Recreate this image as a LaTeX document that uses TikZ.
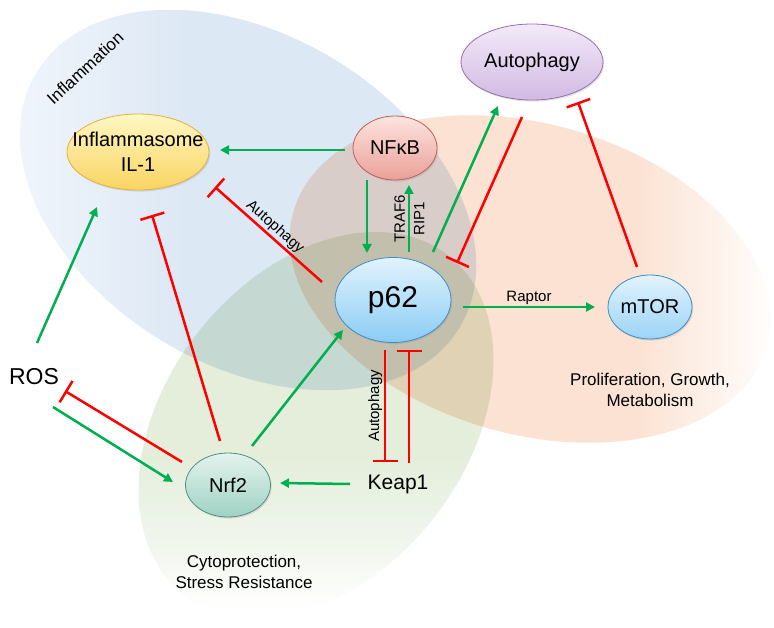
\documentclass[tikz,border=0pt]{standalone}
\usepackage{fontspec}
\setmainfont{Liberation Sans}
\usetikzlibrary{arrows.meta,calc,shadows,shapes.geometric}

\definecolor{actgreen}{RGB}{0,176,80}
\definecolor{inhred}{RGB}{255,0,0}
\definecolor{bgblue}{RGB}{221,232,245}
\definecolor{bgblueL}{RGB}{243,247,252}
\definecolor{bgorange}{RGB}{251,226,210}
\definecolor{bggreen}{RGB}{228,238,219}
\definecolor{bggreenM}{RGB}{241,246,237}
\definecolor{inflT}{RGB}{255,247,196}
\definecolor{inflB}{RGB}{249,212,96}
\definecolor{inflD}{RGB}{228,176,60}
\definecolor{nfkbT}{RGB}{253,228,223}
\definecolor{nfkbB}{RGB}{234,160,152}
\definecolor{nfkbD}{RGB}{190,96,92}
\definecolor{autoT}{RGB}{243,233,248}
\definecolor{autoB}{RGB}{210,186,227}
\definecolor{autoD}{RGB}{150,112,172}
\definecolor{pT}{RGB}{226,243,253}
\definecolor{pB}{RGB}{138,204,245}
\definecolor{pD}{RGB}{62,140,200}
\definecolor{nrfT}{RGB}{228,243,238}
\definecolor{nrfB}{RGB}{158,210,194}
\definecolor{nrfD}{RGB}{84,140,128}

\pgfdeclarehorizontalshading{bluefade}{100bp}{color(0bp)=(bgblueL); color(25bp)=(bgblueL); color(44bp)=(bgblue); color(100bp)=(bgblue)}
\pgfdeclarehorizontalshading{orangefade}{100bp}{color(0bp)=(bgorange); color(60bp)=(bgorange); color(74bp)=(white); color(100bp)=(white)}
\pgfdeclareverticalshading{greenfade}{100bp}{color(0bp)=(white); color(25bp)=(white); color(34bp)=(bggreenM); color(46bp)=(bggreen); color(100bp)=(bggreen)}

\begin{document}
\begin{tikzpicture}[x=1pt,y=-1pt,
  every node/.style={text=black},
  bio/.style={ellipse, draw, line width=0.8pt, inner sep=0pt,
    drop shadow={opacity=0.22,shadow xshift=1.2pt,shadow yshift=-1.6pt}},
  lbl/.style={font=\fontsize{20}{25}\selectfont, align=center, inner sep=0pt},
  small/.style={font=\fontsize{15}{17}\selectfont, inner sep=1.5pt},
  region/.style={font=\fontsize{17}{21}\selectfont, align=center},
  act/.style={draw=actgreen, line width=2.5pt, -{Triangle[length=9pt,width=9pt]}},
  inh/.style={draw=inhred, line width=2.5pt, -{Bar[width=25pt]}},
  ]
\useasboundingbox (0,0) rectangle (774,628);
\fill[white] (0,0) rectangle (774,628);

% background regions
\begin{scope}[blend mode=multiply]
\shade[shading=bluefade, rotate around={-31:(248,200)}] (248,200) ellipse [x radius=247pt, y radius=165pt];
\shade[shading=orangefade, rotate around={-16:(530,279)}] (530,279) ellipse [x radius=246pt, y radius=155pt];
\shade[shading=greenfade, rotate around={52:(316,425)}] (316,425) ellipse [x radius=215pt, y radius=150pt];
\end{scope}

% region labels
\node[region, rotate=43] (inflam) at (85,68) {Inflammation};
\node[region] (prolif) at (650,390) {Proliferation, Growth,\\Metabolism};
\node[region] (cyto) at (244,572) {Cytoprotection,\\Stress Resistance};

% nodes
\node[bio, top color=inflT, bottom color=inflB, draw=inflD, minimum width=142pt, minimum height=76pt,
  label={[lbl,name=infltext]center:{Inflammasome\\IL-1}}] (infl) at (138,152) {};
\node[bio, top color=nfkbT, bottom color=nfkbB, draw=nfkbD, minimum width=84pt, minimum height=64pt,
  label={[lbl,name=nfkbtext]center:NFκB}] (nfkb) at (395,148) {};
\node[bio, top color=autoT, bottom color=autoB, draw=autoD, minimum width=142pt, minimum height=76pt,
  label={[lbl,name=autotext]center:Autophagy}] (auto) at (532,62) {};
\node[bio, top color=pT, bottom color=pB, draw=pD, minimum width=116pt, minimum height=85pt,
  label={[lbl,font=\fontsize{30}{32}\selectfont,name=ptext]center:p62}] (p62) at (393,300) {};
\node[bio, top color=pT, bottom color=pB!85!white, draw=pD, minimum width=84pt, minimum height=64pt,
  label={[lbl,name=mtortext]center:mTOR}] (mtor) at (650,307) {};
\node[bio, top color=nrfT, bottom color=nrfB, draw=nrfD, minimum width=85pt, minimum height=64pt,
  label={[lbl,name=nrftext]center:Nrf2}] (nrf2) at (228,485) {};
\node[font=\fontsize{23}{25}\selectfont] (ros) at (34,377) {ROS};
\node[font=\fontsize{21}{24}\selectfont] (keap) at (398,484) {Keap1};

% connectors
\draw[act] ($(nfkb)+(-50,2)$) -- ($(infl)+(82,-2)$);
\draw[act] ($(nfkb)+(-28,32)$) -- ($(p62)+(-26,-47)$);
\draw[act] ($(p62)+(16,-48)$) --
  node[small, rotate=90, anchor=south, outer sep=2.5pt] (traf) {TRAF6}
  node[small, rotate=90, anchor=north, outer sep=3.5pt] (rip) {RIP1}
  ($(nfkb)+(14,37)$);
\draw[act] ($(p62)+(40,-48)$) -- ($(auto)+(-34,44)$);
\draw[inh] ($(auto)+(-10,55)$) -- ($(p62)+(64,-37)$);
\draw[inh] ($(mtor)+(-13,-40)$) -- ($(auto)+(46,40)$);
\draw[act] ($(p62)+(70,7)$) -- node[small, above] (raptor) {Raptor} ($(mtor)+(-55,0)$);
\draw[inh] ($(p62)+(-71,-18)$) -- node[small, sloped, above] (autoa) {Autophagy} ($(infl)+(77,35)$);
\draw[inh] ($(nrf2)+(-8,-44)$) -- ($(infl)+(14,63)$);
\draw[act] ($(ros)+(3,-34)$) -- ($(infl)+(-41,55)$);
\draw[inh] ($(nrf2)+(-46,-23)$) -- ($(ros)+(31,14)$);
\draw[act] ($(ros)+(19,30)$) -- ($(nrf2)+(-55,-3)$);
\draw[act] ($(keap)+(-48,0)$) -- ($(nrf2)+(52,-2)$);
\draw[act] ($(nrf2)+(24,-39)$) -- ($(p62)+(-50,30)$);
\draw[inh] ($(p62)+(-8,50)$) --
  node[small, rotate=90, anchor=south] (autob) {Autophagy}
  ($(keap)+(-13,-22)$);
\draw[inh] ($(keap)+(11,-21)$) -- ($(p62)+(16,50)$);
\end{tikzpicture}
\end{document}
